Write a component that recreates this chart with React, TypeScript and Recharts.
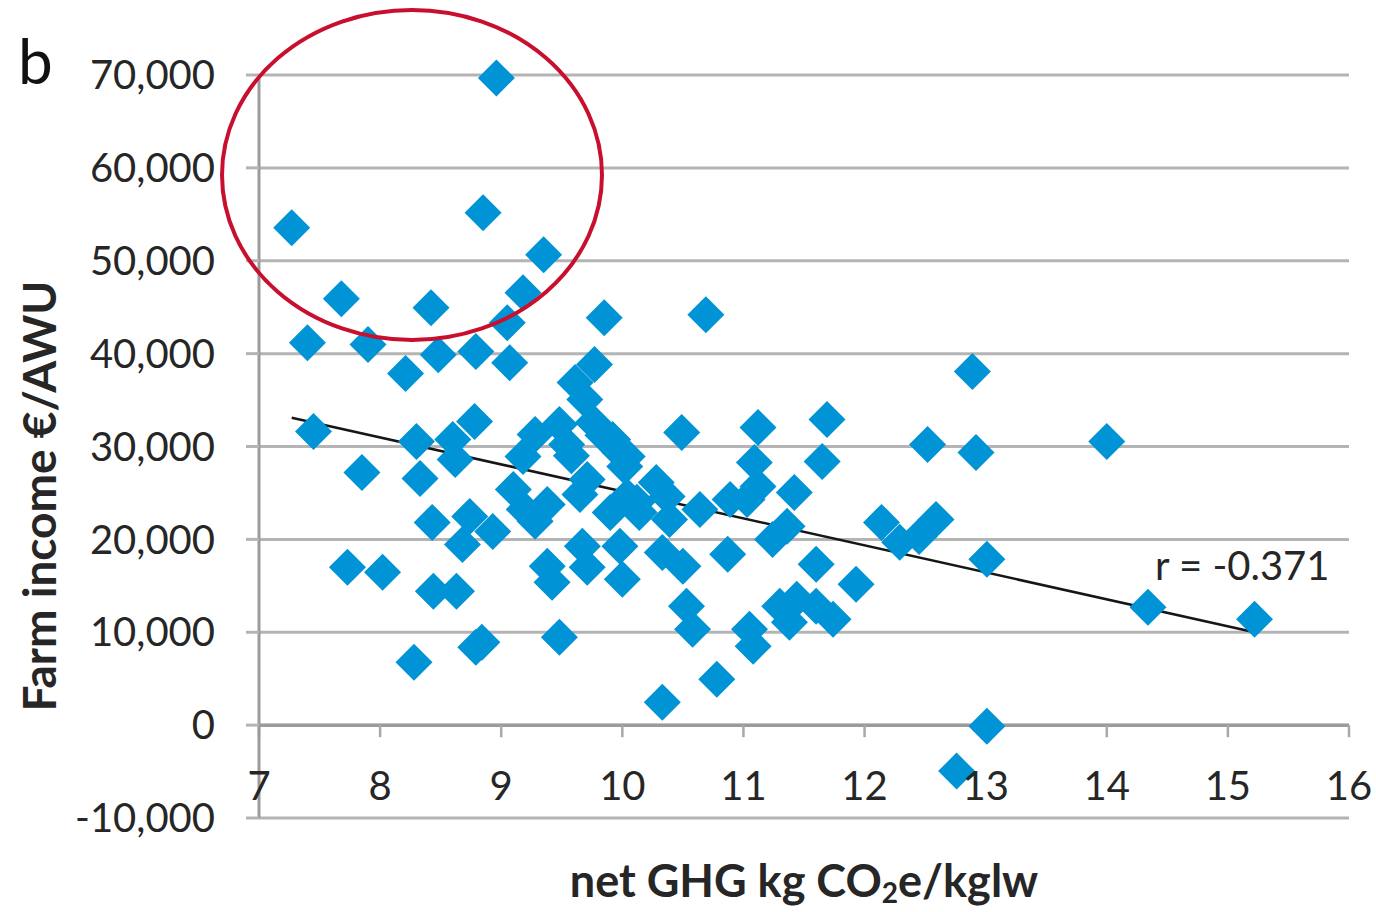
import React from 'react';
import { ScatterChart, Scatter, XAxis, YAxis, CartesianGrid, ReferenceLine } from 'recharts';

// net GHG kg CO2e/kglw (x) and Farm income €/AWU (y)
const ghgValues = [
  7.27, 8.96, 8.85, 9.35, 7.68, 8.42, 9.18, 9.05, 9.85, 10.69,
  7.40, 7.90, 8.21, 8.48, 8.79, 9.07, 9.77, 9.61, 9.69, 9.76,
  9.92, 10.04, 10.49, 11.12, 11.69, 11.09, 11.65, 11.12, 11.42, 11.03,
  10.89, 11.36, 11.24, 11.60, 11.93, 11.30, 11.44, 11.60, 11.74, 11.38,
  11.05, 11.08, 12.14, 12.29, 12.45, 12.59, 12.52, 12.89, 12.92, 14.00,
  13.01, 14.34, 15.22, 13.01, 12.76, 7.45, 7.85, 8.30, 8.33, 8.78,
  8.60, 8.62, 8.43, 8.74, 8.93, 8.68, 7.73, 8.02, 8.44, 8.63,
  8.28, 8.84, 9.48, 9.28, 9.48, 9.54, 9.18, 9.10, 9.19, 9.28,
  9.38, 9.38, 9.42, 9.67, 9.71, 10.00, 9.98, 9.71, 9.65, 9.90,
  10.14, 10.28, 10.37, 10.39, 10.64, 10.33, 10.50, 10.87, 10.53, 10.58,
  10.78, 10.33, 9.98, 10.02, 8.79, 10.04, 9.84, 9.58, 10.12,
];
const incomeValues = [
  53550, 69680, 55160, 50650, 45910, 44950, 46560, 43330, 43870, 44190,
  41180, 40970, 37850, 39890, 40220, 39030, 38820, 36880, 35050, 32580,
  30750, 28930, 31510, 32040, 32900, 28280, 28390, 25700, 25050, 24300,
  24300, 21400, 20000, 17310, 15160, 12800, 13550, 12800, 11400, 11080,
  10320, 8500, 21830, 19680, 20320, 22150, 30220, 38070, 29360, 30540,
  17850, 12690, 11400, -110, -4950, 31610, 27200, 30540, 26560, 32690,
  30750, 28600, 21830, 22470, 20860, 19460, 16990, 16450, 14410, 14410,
  6770, 8920, 9460, 31290, 32370, 30220, 28930, 25380, 23230, 21940,
  23760, 17100, 15380, 19250, 16990, 15700, 19250, 26450, 24840, 22900,
  22900, 26130, 24620, 22150, 23230, 18600, 17100, 18390, 12800, 10320,
  4950, 2470, 29360, 27850, 8390, 24620, 31200, 29000, 24000,
];

const xTicks = [7, 8, 9, 10, 11, 12, 13, 14, 15, 16];
const yTicks = [-10000, 0, 10000, 20000, 30000, 40000, 50000, 60000, 70000];

// linear trend line end points
const trendGhg = [7.27, 15.22];
const trendIncome = [33100, 10000];
const correlationLabel = 'r = -0.371';

const points = ghgValues.map((x, i) => ({ x, y: incomeValues[i] }));
const trendSegment = trendGhg.map((x, i) => ({ x, y: trendIncome[i] }));

const FONT = 'Lato, "Open Sans", sans-serif';
const TEXT = '#262626';

const Diamond = (props: any) => {
  const { cx, cy } = props;
  const r = 18.5;
  return (
    <polygon
      points={`${cx},${cy - r} ${cx + r},${cy} ${cx},${cy + r} ${cx - r},${cy}`}
      fill="#0093d5"
    />
  );
};

const XTick = (props: any) => {
  const { x, y, payload } = props;
  return (
    <text x={x} y={y - 18} textAnchor="middle" fontSize={40} fontFamily={FONT} fill={TEXT}>
      {payload.value}
    </text>
  );
};

const fmt = (v: number) => v.toLocaleString('en-US');

export default function App() {
  return (
    <div style={{ position: 'absolute', left: 0, top: 0, width: 1376, height: 912, background: '#fff' }}>
      <ScatterChart
        width={1376}
        height={912}
        margin={{ top: 75, right: 27, bottom: 64, left: 0 }}
      >
        <CartesianGrid vertical={false} stroke="#b4b4b4" strokeWidth={3} />
        <XAxis
          type="number"
          dataKey="x"
          domain={[7, 16]}
          ticks={xTicks}
          interval={0}
          axisLine={false}
          tickLine={false}
          tickSize={0}
          tickMargin={0}
          height={30}
          tick={<XTick />}
        />
        <YAxis
          type="number"
          dataKey="y"
          domain={[-10000, 70000]}
          ticks={yTicks}
          interval={0}
          width={259}
          axisLine={{ stroke: '#9b9b9b', strokeWidth: 3 }}
          tickLine={{ stroke: '#b4b4b4', strokeWidth: 3 }}
          tickSize={13}
          tickMargin={31}
          tickFormatter={fmt}
          tick={{ fontSize: 40, fontFamily: FONT, fill: TEXT }}
        />
        <ReferenceLine y={0} stroke="#9b9b9b" strokeWidth={3.5} />
        {xTicks.map((t) => (
          <ReferenceLine
            key={t}
            segment={[{ x: t, y: 0 }, { x: t, y: -1300 }]}
            stroke="#a8a8a8"
            strokeWidth={2.5}
          />
        ))}
        <Scatter data={points} shape={<Diamond />} isAnimationActive={false} />
        <ReferenceLine segment={trendSegment} stroke="#161616" strokeWidth={2.5} />
      </ScatterChart>
      <svg
        width={1376}
        height={912}
        style={{ position: 'absolute', left: 0, top: 0, pointerEvents: 'none' }}
      >
        <text x={18} y={84} fontSize={62} fontFamily={FONT} fill="#111">b</text>
        <ellipse cx={412} cy={175} rx={190} ry={165} fill="none" stroke="#c8102e" strokeWidth={4} />
        <text x={1155} y={580} fontSize={40} fontFamily={FONT} fill={TEXT}>{correlationLabel}</text>
        <text
          x={804}
          y={897}
          textAnchor="middle"
          fontSize={45}
          fontWeight="bold"
          fontFamily={FONT}
          fill={TEXT}
        >
          net GHG kg CO<tspan fontSize={28} dy={6}>2</tspan><tspan dy={-6}>e/kglw</tspan>
        </text>
        <text
          transform="translate(56,496) rotate(-90)"
          textAnchor="middle"
          fontSize={46}
          fontWeight="bold"
          fontFamily={FONT}
          fill={TEXT}
        >
          Farm income €/AWU
        </text>
      </svg>
    </div>
  );
}
